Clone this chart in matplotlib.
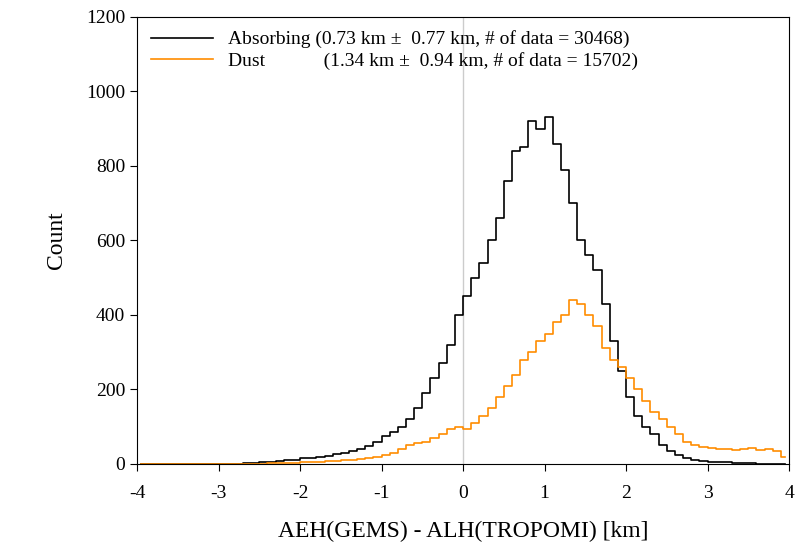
import numpy as np
import matplotlib
matplotlib.use("Agg")
import matplotlib.pyplot as plt

centers = np.arange(-3.95, 4.0, 0.1)
absorbing = [0,0,0,0,0,0,0,0,0,0,
             0,1,1,2,3,4,6,8,10,12,
             15,17,20,22,26,30,35,40,48,60,
             75,85,100,120,150,190,230,270,320,400,
             450,500,540,600,660,760,840,850,920,900,
             930,860,790,700,600,560,520,430,330,250,
             180,130,100,80,50,35,25,15,12,8,
             6,5,4,3,2,2,1,1,1,0]
dust = [0,0,0,0,0,0,0,0,0,0,
        0,0,0,1,1,1,2,2,3,3,
        4,5,6,7,8,10,12,14,16,20,
        25,30,40,50,55,60,70,80,95,100,
        95,110,130,150,180,210,240,280,300,330,
        350,380,400,440,430,400,370,310,280,260,
        230,200,170,140,120,100,80,60,50,45,
        42,40,40,38,40,42,38,40,35,20]

plt.rcParams['font.family'] = ['Liberation Serif', 'DejaVu Serif']
plt.rcParams['axes.unicode_minus'] = False
fig = plt.figure(figsize=(7.97, 5.54), dpi=100)
ax = fig.add_axes([0.172, 0.1625, 0.818, 0.807])
ax.axvline(0, color='#cccccc', lw=1)
ax.step(centers, absorbing, where='mid', color='black', lw=1.2,
        label='Absorbing (0.73 km \u00b1  0.77 km, # of data = 30468)')
ax.step(centers, dust, where='mid', color='#ff8c00', lw=1.2,
        label='Dust            (1.34 km \u00b1  0.94 km, # of data = 15702)')
ax.set_xlim(-4, 4)
ax.set_ylim(0, 1200)
ax.set_xticks(range(-4, 5))
ax.set_yticks(range(0, 1201, 200))
ax.tick_params(labelsize=14, direction='out', length=5)
ax.tick_params(axis='x', pad=10)
ax.set_xlabel('AEH(GEMS) - ALH(TROPOMI) [km]', fontsize=17, labelpad=14)
ax.set_ylabel('Count', fontsize=17, labelpad=14)
ax.legend(loc='upper left', frameon=False, fontsize=14, handlelength=3.2,
          borderaxespad=0.3, labelspacing=0.2)
fig.savefig('out.png', dpi=100)
